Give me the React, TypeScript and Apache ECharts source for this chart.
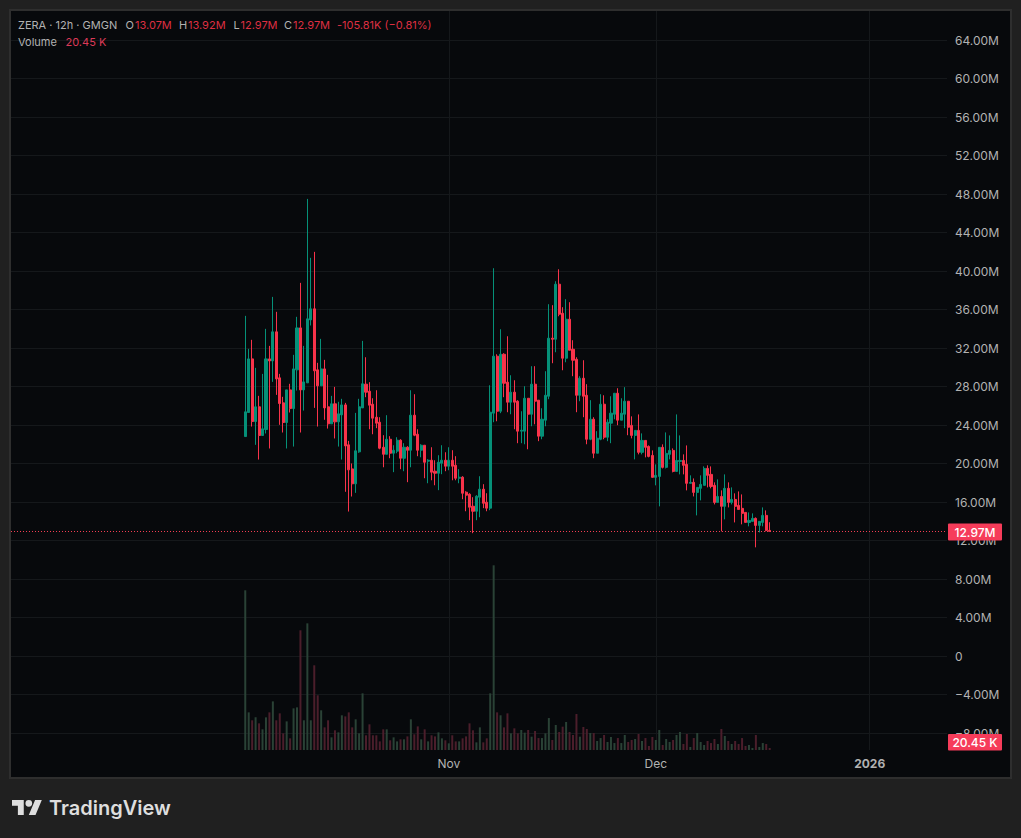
import React, { useEffect, useRef } from 'react';
import * as echarts from 'echarts';

// values in millions: [open, close, low, high], one row per 12h candle
const candles: Array<[number, number, number, number]> = [
  [22.82, 25.39, 22.82, 35.36], [25.32, 30.89, 25.32, 31.93], [30.89, 24.38, 23.86, 32.87], [24.38, 25.91, 21.96, 29.96],
  [25.91, 22.93, 20.43, 27.05], [22.93, 23.62, 22.93, 29.33], [23.55, 30.89, 23.14, 34.01], [30.89, 30.68, 21.58, 32.24],
  [30.68, 33.70, 28.50, 37.33], [33.70, 28.81, 27.15, 35.78], [28.92, 26.25, 24.04, 29.33], [26.32, 24.28, 23.24, 26.95],
  [24.28, 27.67, 21.58, 27.67], [27.67, 25.73, 25.32, 28.30], [25.73, 29.85, 21.78, 31.31], [29.75, 34.11, 27.60, 35.26],
  [34.11, 27.67, 23.24, 38.79], [27.67, 28.50, 25.52, 32.24], [28.40, 35.05, 28.40, 47.51], [34.94, 36.09, 34.36, 41.39],
  [36.09, 29.65, 25.80, 42.01], [29.75, 28.09, 23.86, 30.48], [28.09, 29.85, 28.09, 32.97], [29.85, 25.80, 24.56, 30.79],
  [25.91, 24.14, 23.65, 29.23], [24.14, 26.22, 24.14, 27.05], [26.22, 24.35, 22.62, 27.98], [24.35, 25.18, 21.78, 26.43],
  [25.07, 26.11, 20.43, 26.74], [26.11, 21.85, 17.08, 26.32], [21.96, 19.36, 15.03, 22.37], [19.46, 17.91, 16.59, 20.02],
  [17.91, 21.34, 16.97, 25.28], [21.23, 25.91, 21.13, 26.74], [25.80, 28.30, 25.80, 32.76], [28.26, 27.43, 26.91, 31.06],
  [27.53, 26.08, 23.58, 28.47], [26.18, 24.73, 23.06, 26.80], [24.83, 24.21, 23.69, 27.63], [24.31, 21.61, 21.50, 24.83],
  [21.71, 20.98, 19.63, 22.96], [20.98, 22.54, 20.98, 25.04], [22.54, 21.09, 20.57, 22.86], [21.09, 21.40, 19.12, 21.92],
  [21.30, 22.44, 21.09, 22.75], [22.44, 20.57, 19.43, 22.54], [20.57, 21.71, 19.22, 22.13], [21.71, 21.40, 18.08, 21.82],
  [21.40, 25.04, 19.63, 27.63], [25.04, 22.96, 22.86, 27.22], [23.06, 21.40, 20.78, 23.58], [21.40, 21.92, 20.67, 22.02],
  [21.92, 20.15, 18.49, 21.92], [20.26, 20.36, 17.97, 20.47], [20.36, 19.12, 18.28, 21.71], [19.22, 19.01, 17.76, 20.36],
  [19.01, 20.15, 17.25, 20.88], [20.05, 20.36, 18.91, 21.92], [20.36, 19.74, 19.22, 21.19], [19.74, 20.36, 19.32, 21.71],
  [20.36, 19.74, 18.28, 21.40], [19.84, 18.49, 18.28, 20.78], [18.49, 18.60, 17.97, 19.43], [18.60, 16.93, 16.31, 18.70],
  [17.04, 16.73, 15.06, 17.14], [16.83, 15.48, 14.13, 16.93], [15.58, 15.06, 12.78, 16.52], [15.06, 16.62, 14.13, 16.73],
  [16.52, 17.35, 14.44, 18.70], [17.35, 15.89, 15.38, 17.87], [16.00, 15.38, 15.06, 16.93], [15.38, 25.35, 15.17, 28.15],
  [25.25, 31.17, 24.31, 40.31], [31.17, 25.45, 24.41, 31.37], [25.45, 31.37, 25.25, 33.97], [31.37, 28.36, 26.91, 31.48],
  [28.47, 26.39, 25.35, 33.24], [26.39, 27.43, 25.14, 29.19], [27.43, 26.39, 23.58, 28.67], [26.49, 23.38, 22.13, 26.60],
  [23.38, 23.48, 22.13, 25.45], [23.38, 26.80, 22.02, 28.05], [26.80, 25.14, 21.50, 26.80], [25.14, 28.26, 23.89, 30.13],
  [28.26, 26.49, 24.10, 30.13], [26.60, 22.86, 22.34, 26.60], [22.86, 24.62, 22.54, 25.76], [24.52, 27.11, 23.89, 29.61],
  [27.01, 33.04, 26.70, 36.57], [33.04, 32.93, 30.44, 36.47], [32.93, 38.65, 31.58, 38.96], [38.65, 35.53, 35.32, 40.20],
  [35.63, 30.96, 29.71, 36.26], [30.96, 35.01, 30.54, 37.09], [35.01, 31.79, 31.79, 36.78], [31.89, 30.75, 29.09, 32.83],
  [30.85, 27.11, 25.35, 31.06], [27.11, 28.88, 26.49, 29.09], [28.88, 27.01, 24.83, 30.75], [27.11, 22.54, 22.02, 28.26],
  [22.54, 24.62, 22.44, 26.60], [24.62, 21.09, 20.57, 24.83], [21.09, 22.65, 21.09, 23.38], [22.54, 26.18, 22.44, 27.22],
  [26.18, 22.75, 22.54, 27.11], [22.75, 24.31, 22.34, 24.62], [24.21, 25.25, 22.13, 27.01], [25.14, 27.32, 24.62, 27.32],
  [27.32, 24.52, 24.00, 27.84], [24.52, 25.25, 24.52, 26.80], [25.14, 26.49, 23.69, 27.95], [26.49, 23.79, 22.96, 26.49],
  [23.98, 22.94, 22.63, 24.92], [22.94, 23.46, 20.45, 23.46], [23.46, 21.18, 20.97, 25.12], [21.18, 22.42, 20.97, 23.15],
  [22.42, 21.70, 20.66, 22.42], [21.80, 20.76, 20.66, 21.90], [20.86, 18.58, 18.58, 21.38], [18.58, 18.79, 17.75, 19.93],
  [18.68, 21.70, 15.57, 21.70], [21.70, 19.62, 19.51, 22.01], [19.62, 21.07, 19.51, 23.25], [20.97, 21.38, 20.45, 22.94],
  [21.38, 19.20, 19.10, 21.59], [19.20, 20.34, 19.20, 25.12], [20.24, 20.34, 18.89, 22.94], [20.34, 19.83, 18.89, 20.97],
  [19.93, 17.96, 17.23, 21.90], [17.96, 18.06, 17.96, 18.79], [18.06, 17.02, 16.60, 18.47], [17.02, 17.54, 14.63, 17.54],
  [17.44, 17.85, 16.19, 18.79], [17.75, 19.51, 17.75, 19.72], [19.51, 18.79, 17.54, 19.83], [18.89, 17.64, 17.44, 19.72],
  [17.75, 15.98, 15.77, 18.06], [15.98, 16.60, 15.98, 18.37], [16.60, 15.57, 12.97, 17.23], [15.57, 17.44, 14.22, 18.89],
  [17.44, 15.98, 15.46, 18.06], [15.98, 16.29, 15.77, 17.54], [16.29, 15.57, 13.90, 16.92], [15.67, 15.25, 15.25, 17.12],
  [15.36, 14.84, 13.70, 16.81], [14.94, 13.90, 13.90, 14.94], [13.90, 14.11, 13.49, 14.94], [14.01, 14.32, 14.01, 14.84],
  [14.32, 13.59, 11.31, 14.42], [13.59, 14.01, 12.86, 14.01], [13.90, 14.63, 13.49, 15.46], [14.63, 13.07, 12.97, 15.15],
  [13.07, 12.97, 12.97, 13.92],
];

// volume in thousands, same order as candles
const volumes = [
  1629, 384, 303, 333, 272, 211, 333, 384, 496, 303, 374, 170, 292, 119, 425, 435, 1221, 303, 1292, 303,
  864, 558, 405, 231, 303, 129, 201, 180, 354, 343, 384, 231, 313, 170, 578, 150, 262, 150, 150, 88,
  211, 211, 99, 129, 88, 109, 109, 139, 313, 160, 241, 109, 211, 88, 150, 139, 180, 119, 99, 68,
  150, 88, 88, 119, 139, 272, 201, 78, 231, 78, 119, 578, 1884, 384, 354, 231, 374, 170, 221, 170,
  204, 177, 204, 136, 194, 122, 122, 170, 326, 102, 255, 184, 238, 286, 184, 153, 367, 136, 235, 214,
  173, 173, 92, 122, 153, 82, 133, 71, 122, 71, 153, 82, 102, 112, 163, 92, 122, 41, 133, 102,
  204, 51, 112, 82, 102, 153, 184, 61, 163, 31, 122, 173, 82, 51, 92, 71, 112, 61, 214, 143,
  92, 61, 92, 61, 122, 41, 51, 20, 153, 31, 71, 61, 20.45,
];

const lastPrice = 12.97;
const timeTicks = [Date.UTC(2025, 10, 1), Date.UTC(2025, 11, 1), Date.UTC(2026, 0, 1)];
const timeTickNames = ['Nov', 'Dec', '2026'];
const priceMin = -8;
const priceMax = 64;
const priceStep = 4;

const headerTexts: Array<[string, number, number, string]> = [
  ['ZERA · 12h · GMGN', 18, 25, 'muted'],
  ['O', 125.5, 25, 'muted'],
  ['13.07M', 135, 25, 'down'],
  ['H', 179, 25, 'muted'],
  ['13.92M', 188, 25, 'down'],
  ['L', 233.5, 25, 'muted'],
  ['12.97M', 240.5, 25, 'down'],
  ['C', 284, 25, 'muted'],
  ['12.97M', 293, 25, 'down'],
  ['-105.81K (−0.81%)', 337, 25, 'down'],
  ['Volume', 18, 42, 'muted'],
  ['20.45 K', 65.5, 42, 'vol'],
];

const FONT = 'Inter, "Noto Sans", sans-serif';
const PAGE_BG = '#202020';
const PANE_BG = '#07090c';
const GRID = '#15181b';
const UP = '#059078';
const DOWN = '#f8334a';
const TAG = '#f63c5a';
const MUTED = '#b2b2b2';
const textColors: Record<string, string> = { muted: MUTED, down: '#dd2f42', vol: '#dc3a58' };

const HALF_DAY = 12 * 3600 * 1000;
const firstCandle = Date.UTC(2025, 9, 2, 12);
const timeOf = (i: number) => firstCandle + i * HALF_DAY;
// pane runs from before the first candle to well past the last one
const timeMin = timeOf(-67.9);
const timeMax = timeOf(203.4);

echarts.graphic.registerShape(
  'tvLogo',
  echarts.graphic.extendPath('M14 22H7V11H0V4h14v18zM28 22h-8l7.5-18h8L28 22zM24 8a4 4 0 1 1-8 0a4 4 0 1 1 8 0z', {}),
);

export default function App() {
  const ref = useRef<HTMLDivElement | null>(null);

  useEffect(() => {
    if (!ref.current) return;
    const chart = echarts.init(ref.current, undefined, { renderer: 'svg' });
    const priceTag = (y: number, h: number, label: string) => [
      { type: 'rect', z: 100, shape: { x: 948, y, width: 54, height: h, r: 1 }, style: { fill: TAG } },
      {
        type: 'text', z: 101, x: 975, y: y + h / 2,
        style: { text: label, fill: '#ffffff', font: `500 12px ${FONT}`, align: 'center', verticalAlign: 'middle' },
      },
    ];
    chart.setOption({
      animation: false,
      backgroundColor: PAGE_BG,
      textStyle: { fontFamily: FONT },
      grid: [
        { left: 11, width: 936, top: 40.2, height: 693 },
        { left: 11, width: 936, top: 11, height: 739 },
      ],
      xAxis: [
        { type: 'value', gridIndex: 0, min: timeMin, max: timeMax, show: false, splitLine: { show: false } },
        {
          type: 'value', gridIndex: 1, min: timeMin, max: timeMax,
          axisLine: { show: false },
          axisTick: { show: false, customValues: timeTicks },
          splitLine: { show: true, lineStyle: { color: GRID, width: 1 } },
          axisLabel: {
            customValues: timeTicks,
            margin: 7,
            color: MUTED,
            fontSize: 12,
            fontFamily: FONT,
            formatter: (v: number) => {
              const name = timeTickNames[timeTicks.indexOf(v)] ?? '';
              return name === '2026' ? `{year|${name}}` : name;
            },
            rich: { year: { fontWeight: 700, fontSize: 12, color: MUTED, fontFamily: FONT } },
          },
        },
      ],
      yAxis: [
        {
          type: 'value', gridIndex: 0, position: 'right', min: priceMin, max: priceMax, interval: priceStep,
          axisLine: { show: false },
          axisTick: { show: false },
          splitLine: { show: true, lineStyle: { color: GRID, width: 1 } },
          axisLabel: {
            margin: 8,
            color: MUTED,
            fontSize: 12,
            fontFamily: FONT,
            formatter: (v: number) => (v === 0 ? '0' : `${v < 0 ? '−' : ''}${Math.abs(v).toFixed(2)}M`),
          },
        },
        { type: 'value', gridIndex: 1, min: 0, max: 7538, show: false, splitLine: { show: false } },
      ],
      series: [
        {
          type: 'bar',
          xAxisIndex: 1,
          yAxisIndex: 1,
          barWidth: 2,
          z: 1,
          data: volumes.map((v, i) => ({
            value: [timeOf(i), v],
            itemStyle: { color: candles[i][1] >= candles[i][0] ? '#2a4236' : '#4b1e2b' },
          })),
        },
        {
          type: 'candlestick',
          xAxisIndex: 0,
          yAxisIndex: 0,
          barWidth: 2.6,
          z: 3,
          itemStyle: { color: UP, color0: DOWN, borderColor: UP, borderColor0: DOWN, borderWidth: 1 },
          data: candles.map((c, i) => [timeOf(i), c[0], c[1], c[2], c[3]]),
          markLine: {
            silent: true,
            symbol: 'none',
            label: { show: false },
            lineStyle: { color: '#f23d52', type: [1, 2], width: 1 },
            data: [{ yAxis: lastPrice }],
          },
        },
      ],
      graphic: [
        { type: 'rect', z: -10, shape: { x: 10, y: 10, width: 1001, height: 768 }, style: { fill: PANE_BG, stroke: '#2e2e2e', lineWidth: 2 } },
        ...headerTexts.map(([text, x, y, kind]) => ({
          type: 'text', z: 50, x, y,
          style: { text, fill: textColors[kind], font: `400 11px ${FONT}`, verticalAlign: 'middle' },
        })),
        ...priceTag(523.5, 17, '12.97M'),
        ...priceTag(734, 16.5, '20.45 K'),
        { type: 'tvLogo', z: 50, x: 12, y: 796.6, scaleX: 0.84, scaleY: 0.84, style: { fill: '#dedede' } },
        {
          type: 'text', z: 50, x: 49, y: 808,
          style: { text: 'TradingView', fill: '#dedede', font: `600 20px ${FONT}`, verticalAlign: 'middle' },
        },
      ],
    });
    return () => { chart.dispose(); };
  }, []);

  return <div ref={ref} style={{ position: 'absolute', left: 0, top: 0, width: 1021, height: 838 }} />;
}
